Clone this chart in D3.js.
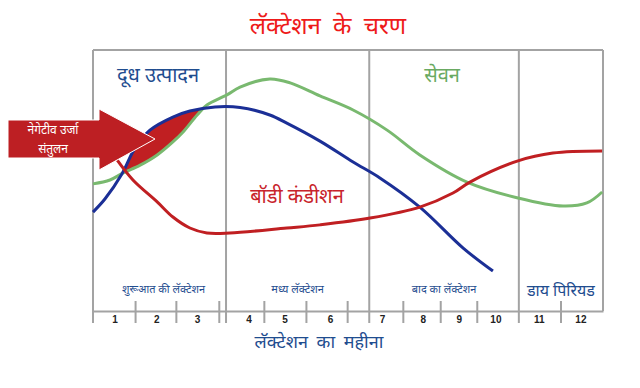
<!DOCTYPE html>
<html>
<head>
<meta charset="utf-8">
<script src="https://cdn.jsdelivr.net/npm/d3@7"></script>
<style>
  body { margin: 0; background: #fff; }
  svg { display: block; }
  text { font-family: "Noto Sans", sans-serif; }
</style>
</head>
<body>
<svg id="chart" width="640" height="388"></svg>
<script>
// month labels and where they sit (in months from start of lactation)
const monthLabels = ["1", "2", "3", "4", "5", "6", "7", "8", "9", "10", "11", "12"];
const monthCenters = [0.52, 1.5, 2.46, 3.67, 4.52, 5.59, 6.81, 7.77, 8.62, 9.48, 10.5, 11.48];
const monthTicks = [0.99, 1.95, 2.96, 4.02, 5.01, 5.98, 7.29, 8.17, 9.03, 11.0];

// stages of lactation
const stageEdges = [0, 3.13, 6.5, 10.02, 12];
const stageNames = ["शुरूआत की लॅक्टेशन", "मध्य लॅक्टेशन", "बाद का लॅक्टेशन", "डाय पिरियड"];

// milk production (blue)
const milkMonths = [0, 0.28, 0.68, 0.99, 1.34, 1.88, 2.28, 2.87, 3.46, 4.16, 4.56, 5.34, 6.12, 6.75, 7.69, 8.71, 9.41];
const milkLevel  = [37.9, 42.9, 52.5, 62.5, 69.3, 74.3, 76.6, 78.2, 78.0, 75.1, 72.0, 65.1, 57.1, 51.0, 39.8, 24.1, 15.3];

// feed intake (green)
const intakeMonths = [0, 0.4, 0.71, 1.11, 1.51, 1.88, 2.12, 2.45, 2.68, 3.15, 3.46, 4.16, 4.64, 5.34, 6.12, 6.92, 7.69, 8.8, 10.0, 11.06, 11.62, 11.98];
const intakeLevel  = [48.7, 50.2, 52.9, 55.9, 59.8, 64.8, 68.6, 75.1, 78.9, 82.8, 85.8, 88.9, 87.4, 82.4, 77.0, 69.3, 59.8, 49.4, 43.3, 40.2, 41.4, 45.6];

// body condition (red)
const bodyMonths = [0.57, 0.94, 1.51, 1.88, 2.28, 2.68, 3.22, 4.56, 5.34, 6.52, 7.69, 8.47, 8.87, 10.0, 10.82, 11.98];
const bodyLevel  = [57.8, 50.2, 41.8, 36.0, 31.8, 29.9, 29.9, 31.8, 33.0, 35.6, 39.8, 45.2, 49.4, 57.5, 60.5, 61.3];

const BLUE = "#1b2f96",
      GREEN = "#79b96f",
      RED = "#c01f22",
      GRID = "#a3a3a3",
      LABEL_BLUE = "#1f4d8f";

const svg = d3.select("#chart");

const x = d3.scaleLinear().domain([0, 12]).range([93, 603]),
      y = d3.scaleLinear().domain([0, 100]).range([311, 50]);

const zip = (ms, vs) => ms.map((m, i) => ({m: m, v: vs[i]}));
const milk = zip(milkMonths, milkLevel),
      intake = zip(intakeMonths, intakeLevel),
      body = zip(bodyMonths, bodyLevel);

const curve = d3.curveCatmullRom.alpha(0.5);
const line = d3.line().x(d => x(d.m)).y(d => y(d.v)).curve(curve);

// frame and stage dividers
svg.append("line")
  .attr("x1", x(0)).attr("x2", x(12))
  .attr("y1", y(100)).attr("y2", y(100))
  .attr("stroke", GRID).attr("stroke-width", 2);

svg.selectAll("line.stage")
  .data(stageEdges)
  .join("line")
  .attr("class", "stage")
  .attr("x1", d => x(d)).attr("x2", d => x(d))
  .attr("y1", y(100))
  .attr("y2", (d, i) => i == stageEdges.length - 1 ? y(0) : y(0) + 12)
  .attr("stroke", GRID).attr("stroke-width", 2);

// bottom axis with ticks crossing the line
let axis = svg.append("g")
  .attr("transform", "translate(0," + y(0) + ")")
  .call(d3.axisBottom(x).tickValues(monthTicks).tickFormat("").tickSize(12).tickSizeOuter(0));

axis.select(".domain").attr("stroke", GRID).attr("stroke-width", 2);
axis.selectAll(".tick line").attr("y1", -10).attr("stroke", GRID).attr("stroke-width", 2);

svg.selectAll("text.month")
  .data(monthLabels)
  .join("text")
  .attr("class", "month")
  .attr("x", (d, i) => x(monthCenters[i]))
  .attr("y", y(0) + 12)
  .attr("text-anchor", "middle")
  .style("font-family", "'Liberation Sans', Arial, sans-serif")
  .style("font-weight", "bold")
  .style("font-size", "10px")
  .attr("fill", "#222")
  .text(d => d);

svg.selectAll("text.stageName")
  .data(stageNames)
  .join("text")
  .attr("class", "stageName")
  .attr("x", (d, i) => x((stageEdges[i] + stageEdges[i + 1]) / 2) + (i == 0 ? 4 : 0))
  .attr("y", (d, i) => i == 3 ? y(0) - 15 : y(0) - 18)
  .attr("text-anchor", "middle")
  .style("font-size", (d, i) => i == 3 ? "16px" : "11px")
  .attr("fill", LABEL_BLUE)
  .text(d => d);

// negative energy balance: where milk runs above intake
let defs = svg.append("defs");
defs.append("clipPath")
  .attr("id", "belowMilk")
  .append("path")
  .attr("d", d3.area().x(d => x(d.m)).y0(y(0)).y1(d => y(d.v)).curve(curve)(milk));

svg.append("path")
  .attr("clip-path", "url(#belowMilk)")
  .attr("d", d3.area().x(d => x(d.m)).y0(d => y(d.v)).y1(y(100)).curve(curve)(intake.filter(d => d.m < 4)))
  .attr("fill", RED);

svg.append("path").datum(intake)
  .attr("d", line).attr("fill", "none").attr("stroke", GREEN).attr("stroke-width", 3);

svg.append("path").datum(milk)
  .attr("d", line).attr("fill", "none").attr("stroke", BLUE).attr("stroke-width", 3);

svg.append("path").datum(body)
  .attr("d", line).attr("fill", "none").attr("stroke", RED).attr("stroke-width", 3);

// block arrow
svg.append("path")
  .attr("d", "M8,120 L99,120 L99,109 L155,139 L99,170 L99,158 L8,158 Z")
  .attr("fill", "#bd1f23")
  .attr("stroke", "#fff")
  .attr("stroke-width", 1);

svg.append("text")
  .attr("x", 53).attr("y", 134)
  .attr("text-anchor", "middle")
  .style("font-size", "12px")
  .attr("fill", "#fff")
  .text("नेगेटीव उर्जा");

svg.append("text")
  .attr("x", 53).attr("y", 153)
  .attr("text-anchor", "middle")
  .style("font-size", "12px")
  .attr("fill", "#fff")
  .text("संतुलन");

// curve labels
svg.append("text")
  .attr("x", 158).attr("y", 82)
  .attr("text-anchor", "middle")
  .style("font-size", "20px")
  .attr("fill", LABEL_BLUE)
  .text("दूध उत्पादन");

svg.append("text")
  .attr("x", 442).attr("y", 82)
  .attr("text-anchor", "middle")
  .style("font-size", "20px")
  .attr("fill", "#6aaa62")
  .text("सेवन");

svg.append("text")
  .attr("x", 297).attr("y", 203)
  .attr("text-anchor", "middle")
  .style("font-size", "20px")
  .attr("fill", "#c8232b")
  .text("बॉडी कंडीशन");

// titles
svg.append("text")
  .attr("x", 328).attr("y", 34)
  .attr("text-anchor", "middle")
  .style("font-size", "24px")
  .style("word-spacing", "6px")
  .attr("fill", "#ee1a1a")
  .text("लॅक्टेशन के चरण");

svg.append("text")
  .attr("x", 319).attr("y", 348)
  .attr("text-anchor", "middle")
  .style("font-size", "18px")
  .style("word-spacing", "4px")
  .attr("fill", LABEL_BLUE)
  .text("लॅक्टेशन का महीना");
</script>
</body>
</html>
